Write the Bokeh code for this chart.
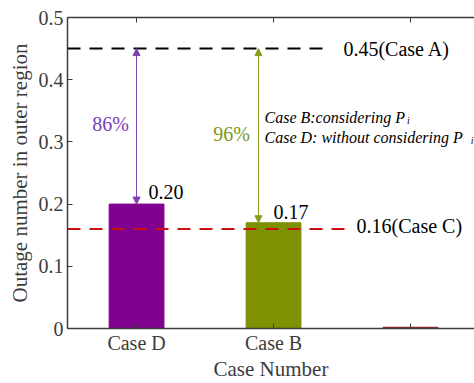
from bokeh.plotting import figure
from bokeh.models import (Range1d, FixedTicker, LinearAxis, Arrow, NormalHead,
                          ColumnDataSource, Label)
from bokeh.embed import file_html
from bokeh.resources import INLINE

# ---- data ----
cases = ["Case D", "Case B", ""]
case_pos = [1, 2, 3]
outage = [0.20, 0.17, 0.002]
bar_colors = ["#80008f", "#7f9000", "#8b1a1a"]
value_labels = ["0.20", "0.17"]
caseA = 0.45
caseC = 0.16
reductions = ["86%", "96%"]
y_ticks = [0, 0.1, 0.2, 0.3, 0.4, 0.5]
y_tick_labels = ["0", "0.1", "0.2", "0.3", "0.4", "0.5"]

FONT = "Liberation Serif"
GRAY = "#3c3c3c"

p = figure(width=474, height=383, output_backend="svg", toolbar_location=None,
           x_range=Range1d(0.496, 3.467), y_range=Range1d(0, 0.5),
           min_border_left=67, min_border_right=0, min_border_top=17,
           min_border_bottom=55)
p.outline_line_color = None
p.grid.grid_line_color = None
p.background_fill_color = "white"

src = ColumnDataSource(dict(x=case_pos, top=outage, color=bar_colors))
p.vbar(x="x", top="top", width=0.4, color="color", source=src)

# reference lines
p.line([0.496, 2.416], [caseA, caseA], line_color="black", line_width=2,
       line_dash="13 9")
p.line([0.496, 2.54], [caseC, caseC], line_color="#cc1111", line_width=2,
       line_dash="13 9")

# arrows
PUR = "#7e3fb4"
GRN = "#8a9a1a"
for xa, top_v, col in ((1, outage[0], PUR), (1.89, outage[1], GRN)):
    p.add_layout(Arrow(x_start=xa, y_start=caseA, x_end=xa, y_end=top_v,
                       line_color=col, line_width=1,
                       start=NormalHead(size=7, fill_color=col, line_color=col),
                       end=NormalHead(size=7, fill_color=col, line_color=col)))

def lab(x, y, text, color="black", size="20px", style="normal", align="left", font=FONT):
    p.add_layout(Label(x=x, y=y, text=text, text_color=color, text_font=font,
                       text_font_size=size, text_font_style=style,
                       text_align=align, text_baseline="middle"))

lab(1.088, 0.219, value_labels[0])
lab(2.0, 0.188, value_labels[1])
lab(2.51, caseA, "0.45(Case A)")
lab(2.606, 0.164, "0.16(Case C)")
lab(0.81, 0.328, reductions[0], color="#7a3fb0", align="center")
lab(1.693, 0.3135, reductions[1], color="#7a9a1a", align="center")
lab(1.934, 0.339, "Case B:considering P", size="16px", style="italic")
lab(2.975, 0.334, "i", size="10px", style="italic")
lab(1.934, 0.307, "Case D: without considering P", size="16px", style="italic")
lab(3.44, 0.302, "i", size="10px", style="italic")

# axes
ax = p.xaxis[0]
ax.ticker = FixedTicker(ticks=case_pos)
ax.major_label_overrides = {c: n for c, n in zip(case_pos, cases)}
ax.axis_label = "Case Number"
ay = p.yaxis[0]
ay.ticker = FixedTicker(ticks=y_ticks)
ay.major_label_overrides = {t: l for t, l in zip(y_ticks, y_tick_labels)}
ay.axis_label = "Outage number in outer region"

for a in (ax, ay):
    a.axis_line_color = GRAY
    a.axis_line_width = 1.5
    a.major_tick_line_color = GRAY
    a.major_tick_in = 5
    a.major_tick_out = 0
    a.minor_tick_line_color = None
    a.major_label_text_font = FONT
    a.major_label_text_font_size = "20px"
    a.major_label_text_color = GRAY
    a.axis_label_text_font = FONT
    a.axis_label_text_font_size = "21px"
    a.axis_label_text_font_style = "normal"
    a.axis_label_text_color = GRAY
ax.major_label_standoff = 3
ax.axis_label_standoff = 0
ay.major_label_standoff = 4
ay.axis_label_standoff = 4

top = LinearAxis(ticker=FixedTicker(ticks=case_pos),
                 major_label_overrides={1: "", 2: "", 3: ""},
                 axis_line_color=GRAY, axis_line_width=1.5, major_tick_line_color=GRAY,
                 major_tick_in=5, major_tick_out=0, minor_tick_line_color=None,
                 major_label_standoff=0)
p.add_layout(top, "above")

open("out.html", "w").write(file_html(p, INLINE))
